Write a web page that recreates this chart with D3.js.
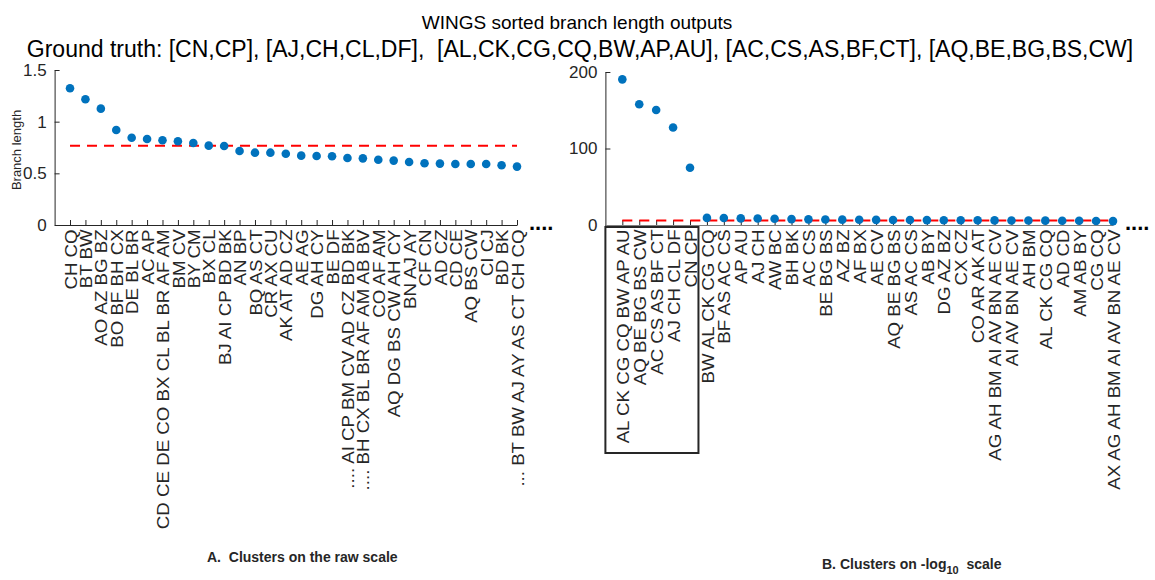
<!DOCTYPE html>
<html>
<head>
<meta charset="utf-8">
<script src="https://cdn.jsdelivr.net/npm/d3@7"></script>
<style>
  body { margin: 0; background: #fff; }
  text { font-family: "Liberation Sans", Arial, Helvetica, sans-serif; fill: #262626; }
</style>
</head>
<body>
<div id="root"></div>
<script>
//DATA
const leftLabels = [
  "CH CQ", "BT BW", "AO AZ BG BZ", "BO BF BH CX", "DE BL BR", "AC AP",
  "CD CE DE CO BX CL BL BR AF AM", "BM CV", "BY CM", "BX CL", "BJ AI CP BD BK",
  "AN BP", "BQ AS CT", "CR AX CU", "AK AT AD CZ", "AE AG", "DG AH CY", "BE DF",
  ".... AI CP BM CV AD CZ BD BK", ".... BH CX BL BR AF AM AB BV", "CO AF AM",
  "AQ DG BS CW AH CY", "BN AJ AY", "CF CN", "AD CZ", "CD CE", "AQ BS CW",
  "CI CJ", "BD BK", "... BT BW AJ AY AS CT CH CQ"
];
const leftValues = [
  1.323, 1.217, 1.126, 0.92, 0.845, 0.832, 0.82, 0.81, 0.794, 0.768,
  0.765, 0.716, 0.70, 0.70, 0.689, 0.671, 0.668, 0.665, 0.648, 0.645,
  0.632, 0.623, 0.61, 0.597, 0.594, 0.59, 0.59, 0.59, 0.578, 0.565
];
const leftThreshold = 0.768;
const leftTicks = [0, 0.5, 1, 1.5];

const rightLabels = [
  "AL CK CG CQ BW AP AU", "AQ BE BG BS CW", "AC CS AS BF CT", "AJ CH CL DF", "CN CP",
  "BW AL CK CG CQ", "BF AS AC CS", "AP AU", "AJ CH", "AW BC", "BH BK", "AC CS",
  "BE BG BS", "AZ BZ", "AF BX", "AE CV", "AQ BE BG BS", "AS AC CS", "AB BY",
  "DG AZ BZ", "CX CZ", "CO AR AK AT", "AG AH BM AI AV BN AE CV", "AI AV BN AE CV",
  "AH BM", "AL CK CG CQ", "AD CD", "AM AB BY", "CG CQ", "AX AG AH BM AI AV BN AE CV"
];
const rightValues = [
  190.4, 157.8, 150.4, 127.4, 74.8, 9.3, 9.1, 8.7, 8.4, 8.1,
  7.7, 7.4, 7.2, 7.0, 6.8, 6.7, 6.6, 6.5, 6.4, 6.3,
  6.2, 6.1, 6.0, 5.9, 5.8, 5.7, 5.6, 5.5, 5.3, 5.1
];
const rightThreshold = 5.8;
const rightTicks = [0, 100, 200];

//DIMENSIONS
const width = 1155, height = 580;
const blue = "#0072BD", axisColor = "#262626";

const svg = d3.select("#root").append("svg")
  .attr("width", width)
  .attr("height", height);

//TITLES
svg.append("text")
  .attr("x", 577).attr("y", 29)
  .attr("text-anchor", "middle")
  .style("font-size", "19px")
  .style("fill", "#000")
  .text("WINGS sorted branch length outputs");

svg.append("text")
  .attr("x", 580).attr("y", 57)
  .attr("text-anchor", "middle")
  .style("font-size", "23px")
  .style("fill", "#000")
  .style("white-space", "pre")
  .text("Ground truth: [CN,CP], [AJ,CH,CL,DF],  [AL,CK,CG,CQ,BW,AP,AU], [AC,CS,AS,BF,CT], [AQ,BE,BG,BS,CW]");

//PANEL DRAWER
function drawPanel(opts) {
  const g = svg.append("g");
  const idx = d3.range(1, opts.values.length + 1);

  const x = d3.scaleLinear().domain([0, 30]).range(opts.xRange);
  const y = d3.scaleLinear().domain(opts.yDomain).range([225, opts.yTop]);

  //Y AXIS
  const yAxis = g.append("g")
    .attr("transform", `translate(${opts.xRange[0]},0)`)
    .call(d3.axisLeft(y).tickValues(opts.yTicks).tickSizeInner(-5).tickSizeOuter(0).tickPadding(8)
      .tickFormat(d3.format("")));
  yAxis.select(".domain").attr("stroke", axisColor);
  yAxis.selectAll(".tick line").attr("stroke", axisColor);
  yAxis.selectAll(".tick text").style("font-size", "17px").attr("fill", axisColor);

  //X AXIS
  const xAxis = g.append("g")
    .attr("transform", `translate(0,225)`)
    .call(d3.axisBottom(x).tickValues(idx).tickSizeInner(-5).tickSizeOuter(0)
      .tickFormat(i => opts.labels[i - 1]));
  xAxis.select(".domain").attr("stroke", opts.xAxisColor || axisColor);
  xAxis.selectAll(".tick line").attr("stroke", axisColor);
  xAxis.selectAll(".tick text")
    .style("font-size", "17px")
    .attr("fill", axisColor)
    .attr("text-anchor", "end")
    .attr("transform", "rotate(-90) scale(1.1,1)")
    .attr("x", -4)
    .attr("y", 0)
    .attr("dy", "0.36em");

  //TRAILING DOTS
  g.append("text")
    .attr("x", opts.xRange[1] + 12).attr("y", 230)
    .style("font-size", "22px")
    .style("font-weight", "bold")
    .style("fill", "#000")
    .text("....");

  //THRESHOLD LINE
  const line = d3.line()
    .x(d => x(d))
    .y(() => y(opts.threshold));
  g.append("path")
    .datum([1, opts.values.length])
    .attr("fill", "none")
    .attr("stroke", "#FF0000")
    .attr("stroke-width", 2)
    .attr("stroke-dasharray", "10,7")
    .attr("d", line);

  //POINTS
  g.selectAll("circle.pt")
    .data(opts.values)
    .join("circle")
    .attr("class", "pt")
    .attr("cx", (d, i) => x(i + 1))
    .attr("cy", d => y(d))
    .attr("r", 4.3)
    .attr("fill", blue);

  return {g, x, y};
}

//LEFT PANEL
drawPanel({
  values: leftValues, labels: leftLabels, threshold: leftThreshold,
  yDomain: [0, 1.5], yTicks: leftTicks, yTop: 70, xRange: [54.6, 517]
});

svg.append("text")
  .attr("transform", "translate(21,150) rotate(-90)")
  .attr("text-anchor", "middle")
  .style("font-size", "13px")
  .text("Branch length");

//RIGHT PANEL
const right = drawPanel({
  values: rightValues, labels: rightLabels, threshold: rightThreshold,
  yDomain: [0, 200], yTicks: rightTicks, yTop: 72, xRange: [605.4, 1113],
  xAxisColor: "#808080"
});

//BOX AROUND TOP CLUSTERS
right.g.append("rect")
  .attr("x", right.x(0)).attr("y", 227)
  .attr("width", right.x(5.5) - right.x(0))
  .attr("height", 226)
  .attr("fill", "none")
  .attr("stroke", "#262626")
  .attr("stroke-width", 2);

//CAPTIONS
svg.append("text")
  .attr("x", 207).attr("y", 562)
  .style("font-size", "14px")
  .style("font-weight", "bold")
  .style("white-space", "pre")
  .text("A.  Clusters on the raw scale");

const capB = svg.append("text")
  .attr("x", 822).attr("y", 569)
  .style("font-size", "14px")
  .style("font-weight", "bold")
  .style("white-space", "pre");
capB.append("tspan").text("B. Clusters on -log");
capB.append("tspan").attr("dy", 5).style("font-size", "11px").text("10");
capB.append("tspan").attr("dy", -5).text("  scale");
</script>
</body>
</html>
